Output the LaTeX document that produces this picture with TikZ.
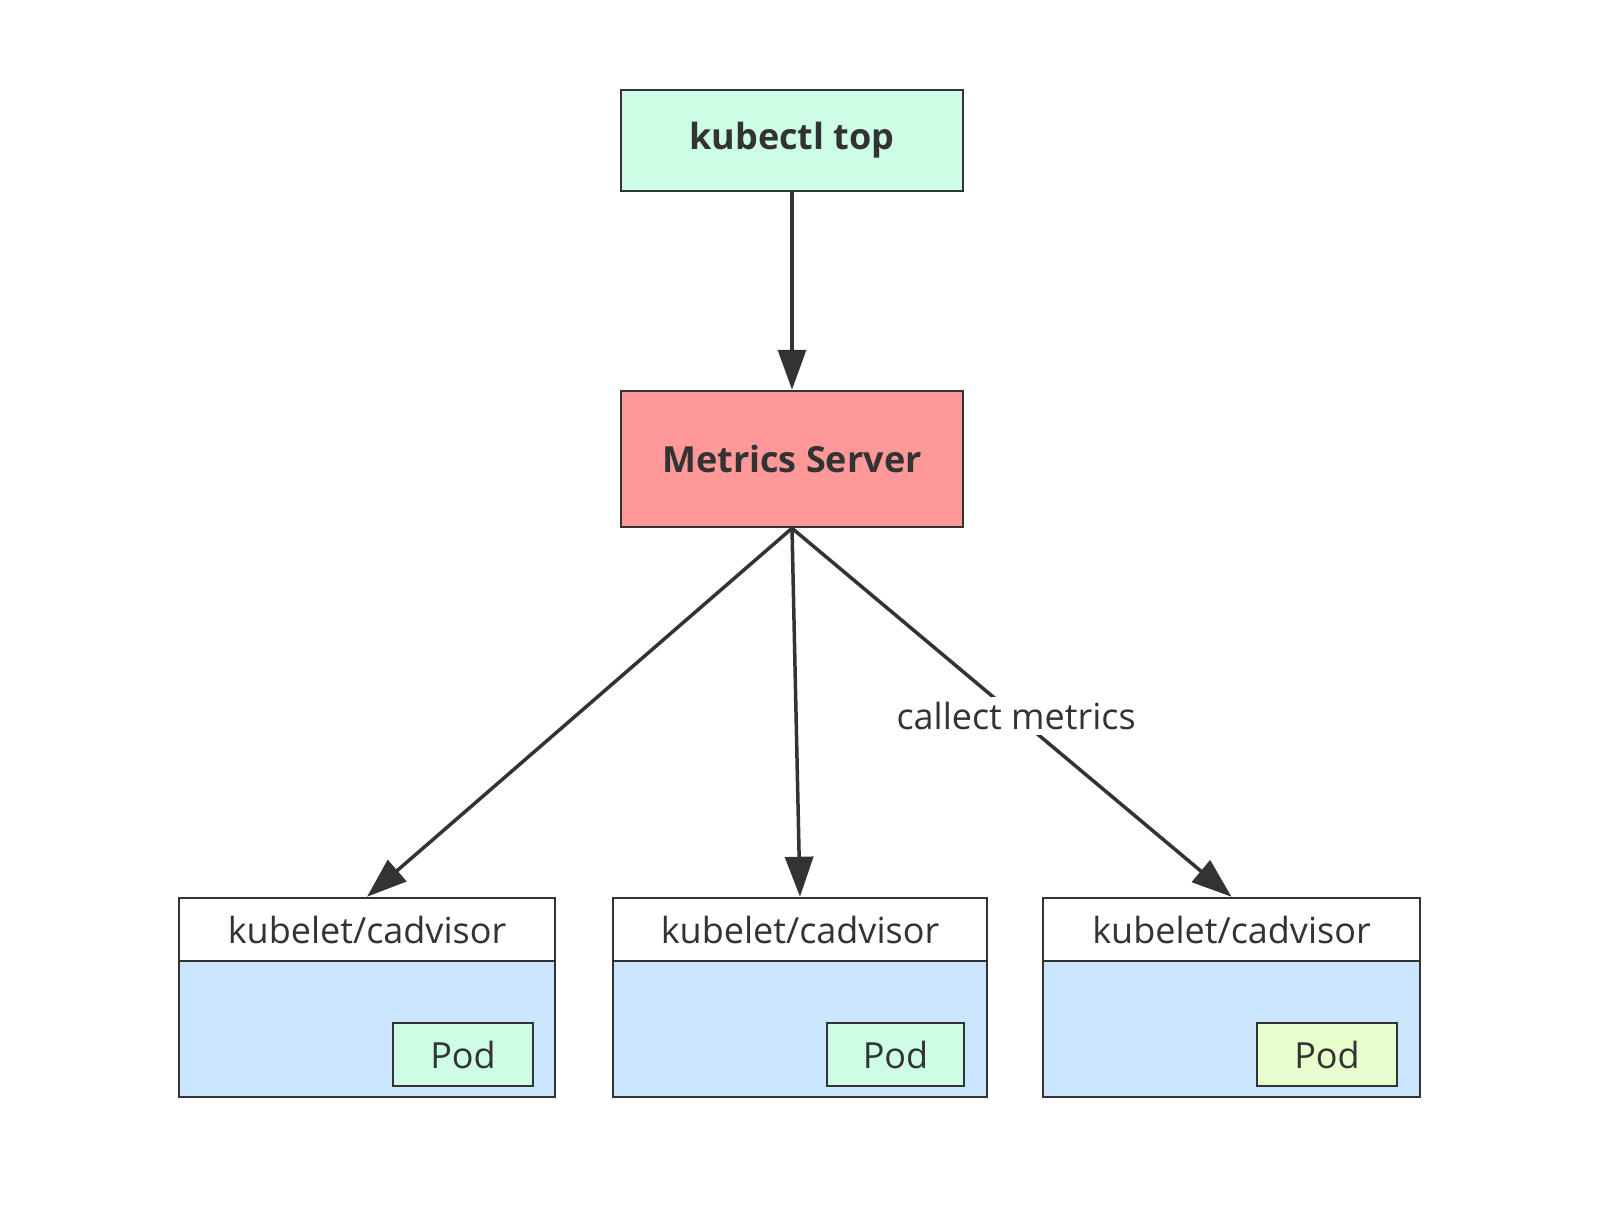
\documentclass[tikz,border=0pt]{standalone}
\usepackage{fontspec}
\setmainfont{Open Sans}
\usetikzlibrary{arrows.meta}
\definecolor{mint}{HTML}{CCFFE6}
\definecolor{salmon}{HTML}{FF9999}
\definecolor{paleblue}{HTML}{CCE5FF}
\definecolor{lime}{HTML}{E6FFCC}
\definecolor{ink}{HTML}{333333}
\begin{document}
\begin{tikzpicture}[x=1pt,y=-1pt,
  box/.style={draw=ink,line width=2.5pt,inner sep=0pt,text=ink},
  title/.style={box,font=\fontsize{36}{40}\selectfont\bfseries},
  plain/.style={box,font=\fontsize{36}{40}\selectfont},
  arr/.style={draw=ink,line width=3.5pt,-{Triangle[length=40pt,width=28pt]}}]
\useasboundingbox (0,0) rectangle (1612,1228);
\fill[white] (0,0) rectangle (1612,1228);
\node[title,fill=mint,minimum width=342pt,minimum height=101pt] (kt) at (792,140.5) {kubectl top};
\node[title,fill=salmon,minimum width=342pt,minimum height=136pt] (ms) at (792,459) {Metrics Server};
% left
\node[plain,fill=paleblue,minimum width=376pt,minimum height=136pt] (b1) at (367,1029) {};
\node[plain,fill=white,minimum width=376pt,minimum height=63pt] (h1) at (367,929.5) {kubelet/cadvisor};
\node[plain,fill=mint,minimum width=140pt,minimum height=63pt] (p1) at (463,1054.5) {Pod};
% middle
\node[plain,fill=paleblue,minimum width=374pt,minimum height=136pt] (b2) at (800,1029) {};
\node[plain,fill=white,minimum width=374pt,minimum height=63pt] (h2) at (800,929.5) {kubelet/cadvisor};
\node[plain,fill=mint,minimum width=137pt,minimum height=63pt] (p2) at (895.5,1054.5) {Pod};
% right
\node[plain,fill=paleblue,minimum width=377pt,minimum height=136pt] (b3) at (1231.5,1029) {};
\node[plain,fill=white,minimum width=377pt,minimum height=63pt] (h3) at (1231.5,929.5) {kubelet/cadvisor};
\node[plain,fill=lime,minimum width=140pt,minimum height=63pt] (p3) at (1327,1054.5) {Pod};
% arrows
\draw[arr] (kt.south) -- (ms.north);
\draw[arr] (ms.south) -- (h1.north);
\draw[arr] (ms.south) -- (h2.north);
\draw[arr] (ms.south) -- node[pos=0.51,fill=white,inner sep=5pt,text=ink,font=\fontsize{36}{40}\selectfont] (lbl) {callect metrics} (h3.north);
\end{tikzpicture}
\end{document}
